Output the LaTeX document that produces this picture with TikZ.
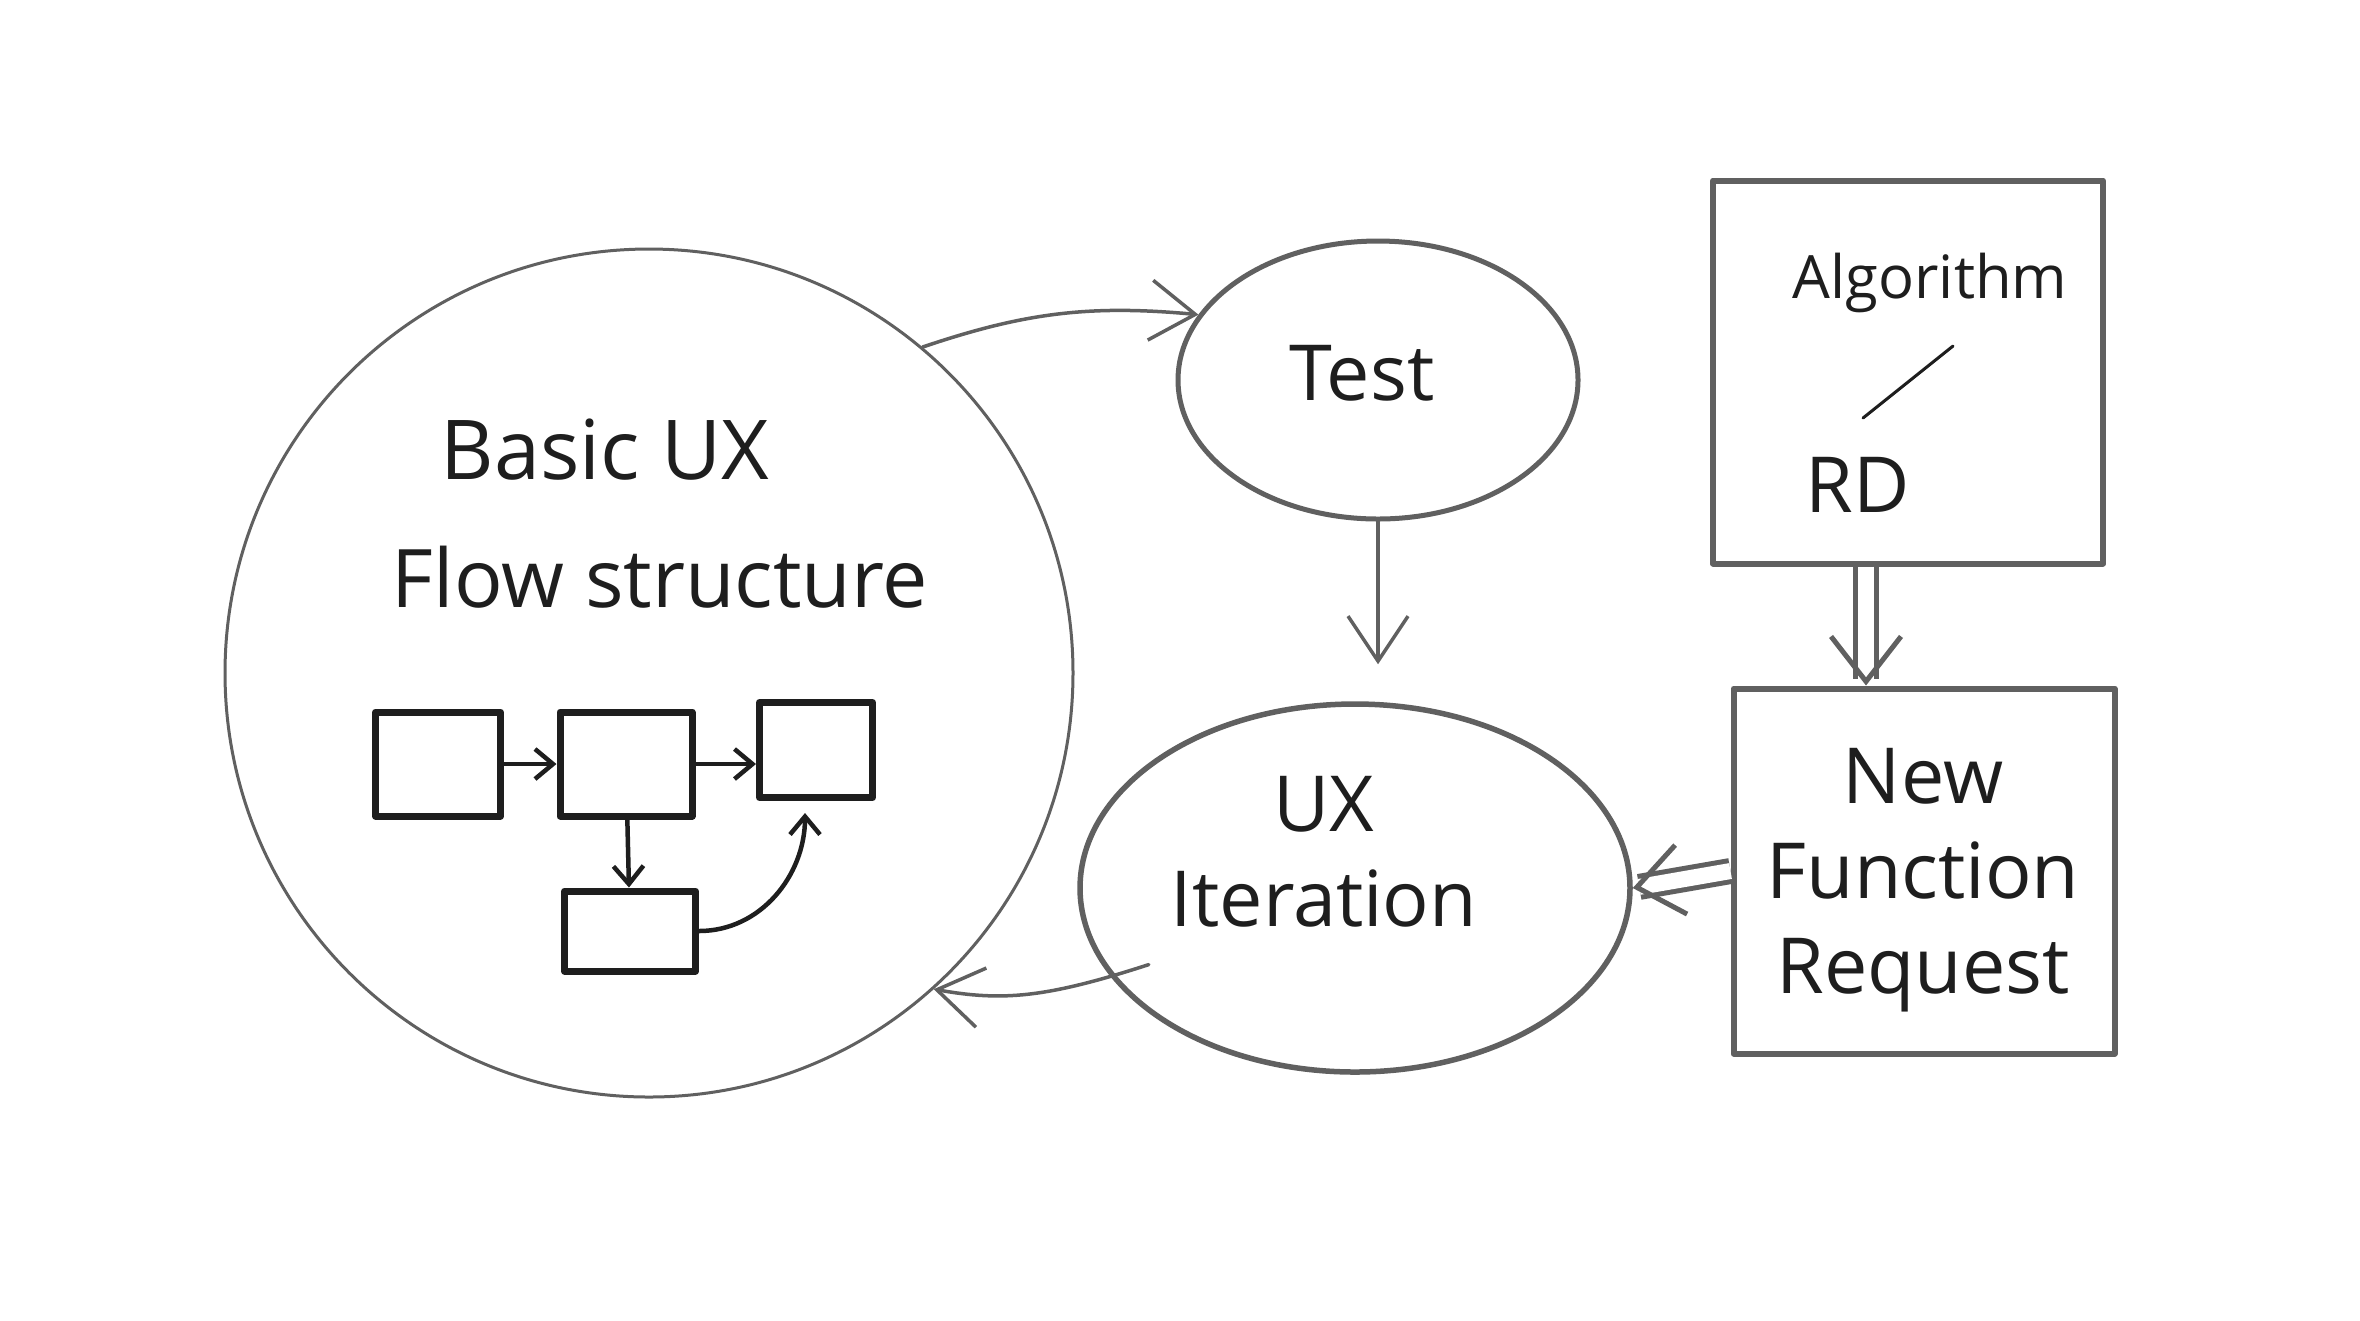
\documentclass[tikz,border=0pt]{standalone}
\usepackage{fontspec}
\setmainfont{Open Sans}
\usetikzlibrary{positioning,shapes.geometric,arrows.meta}
\definecolor{edge}{HTML}{606060}
\definecolor{ink}{HTML}{1E1E1E}

\begin{document}
\begin{tikzpicture}[x=0.1mm, y=-0.1mm, line cap=round, line join=round,
  hand/.style={text=ink, font=\fontsize{22}{27}\selectfont, inner sep=0pt, align=center},
  blob/.style={draw=edge, line width=0.5mm, inner sep=0pt},
  card/.style={draw=edge, line width=0.6mm, rectangle, inner sep=0pt},
  cell/.style={draw=ink, line width=0.7mm, rectangle, inner sep=0pt},
  flow/.style={draw=edge, line width=0.35mm, -{Straight Barb[length=4.5mm,width=6mm]}},
  pipe/.style={draw=edge, line width=0.5mm, line cap=butt, double, double distance=1.6mm, -{Straight Barb[length=4.5mm,width=7mm]}},
  link/.style={draw=ink, line width=0.45mm, -{Straight Barb[length=1.8mm,width=3mm]}}]
\fill[white] (0,0) rectangle (2360,1320);
% the big circle and what is sketched in it
\node[blob, circle, minimum size=84.8mm, line width=0.3mm] (basic) at (649,673) {};
\node[hand, font=\fontsize{23.5}{27}\selectfont] (basicux) at (605,450) {Basic UX};
\node[hand, font=\fontsize{23}{27}\selectfont] (flowst) at (660,577) {Flow structure};
\foreach \n/\x/\y/\w/\h in {f1/438/764/12.5/10.4, f2/626/764/13.2/10.4, f3/816/750/11.3/9.5, f4/630/931/13.1/8.0}
  \node[cell, minimum width=\w mm, minimum height=\h mm] (\n) at (\x,\y) {};
\draw[link] (f1) -- (f2);
\draw[link] (f2.east) -- (f3.west |- f2.east);
\draw[link] (f2) -- (f4);
\draw[link] (f4.east) to[out=0, in=-90] ([xshift=-1.1mm, yshift=-1.2mm]f3.south);
% the loop on the middle
\node[blob, ellipse, minimum width=40mm, minimum height=27.8mm] (test) at (1378,380) {};
\node[hand] (testlbl) at (1362,373) {Test};
\node[blob, ellipse, minimum width=55mm, minimum height=36.8mm, line width=0.55mm] (iter) at (1355,888) {};
\node[hand] (iterlbl) at (1324,852) {UX\\Iteration};
% the two boxes on the right
\node[card, minimum width=39mm, minimum height=38.3mm] (alg) at (1908,372) {};
\node[hand, font=\fontsize{17}{21}\selectfont] (alglbl) at (1930,283) {Algorithm};
\node[hand] (rdlbl) at (1858,485) {RD};
\draw[ink, line width=0.3mm] (1863,418) -- (1953,346);
\node[card, minimum width=38.1mm, minimum height=36.5mm] (newreq) at (1924,871) {};
\node[hand] (newreqlbl) at (1923,880) {New\\Function\\Request};
\draw[flow] (basic.50) to[bend left=12] (test.160);
\draw[flow, shorten >=3.7mm] (test.south) -- (test.south |- iter.north);
\draw[pipe] ([xshift=-4.2mm]alg.south) -- ([xshift=-4.2mm]alg.south |- newreq.north);
\draw[pipe] (newreq.west) -- (iter.east);
\draw[flow, shorten <=-4mm] (iter.200) to[bend left=14] (basic.-48);
\end{tikzpicture}
\end{document}
